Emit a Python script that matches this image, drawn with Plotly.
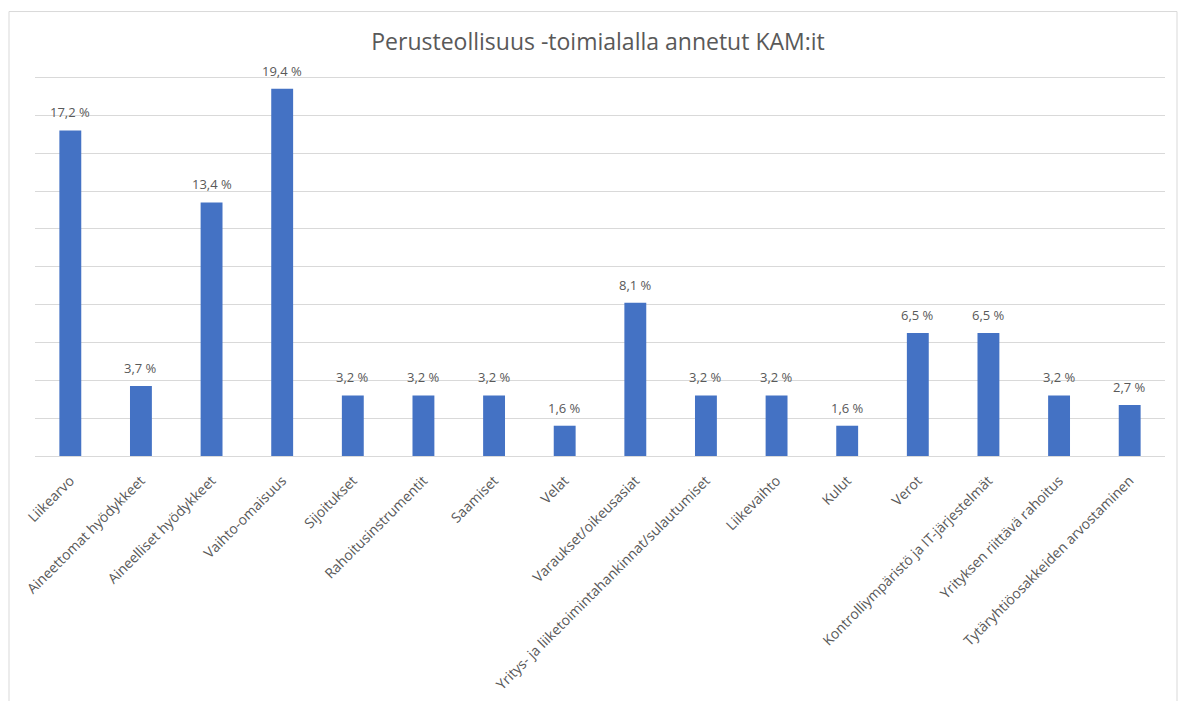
import plotly.graph_objects as go

categories = [
    "Liikearvo", "Aineettomat hyödykkeet", "Aineelliset hyödykkeet", "Vaihto-omaisuus",
    "Sijoitukset", "Rahoitusinstrumentit", "Saamiset", "Velat", "Varaukset/oikeusasiat",
    "Yritys- ja liiketoimintahankinnat/sulautumiset", "Liikevaihto", "Kulut", "Verot",
    "Kontrolliympäristö ja IT-järjestelmät", "Yrityksen riittävä rahoitus",
    "Tytäryhtiöosakkeiden arvostaminen",
]
values = [17.2, 3.7, 13.4, 19.4, 3.2, 3.2, 3.2, 1.6, 8.1, 3.2, 3.2, 1.6, 6.5, 6.5, 3.2, 2.7]
labels = [f"{v:.1f}".replace(".", ",") + " %" for v in values]

FONT = "Open Sans"
GREY = "#595959"
OFF = 8  # default body margin of the html page

fig = go.Figure(go.Bar(
    x=categories, y=values,
    marker=dict(color="#4472C4", line=dict(width=0)),
    cliponaxis=False, hoverinfo="skip",
))

for c, v, t in zip(categories, values, labels):
    fig.add_annotation(x=c, y=v, text=t, showarrow=False, yanchor="bottom",
                       yshift=7, font=dict(family=FONT, size=13, color=GREY))

W, H = 1188 - OFF, 701 - OFF
YMAX = 20.5
# target pixel positions in window
L, R, B, TOP20 = 35, 1165, 456, 77
T = B - (B - TOP20) * YMAX / 20
pw, ph = R - L, B - T

def px(x):
    return (x - L) / pw

def py(y):
    return (B - y) / ph

fig.update_layout(
    width=W, height=H,
    margin=dict(l=L - OFF, r=W - (R - OFF), t=T - OFF, b=H - (B - OFF), autoexpand=False),
    paper_bgcolor="white", plot_bgcolor="white",
    bargap=0.69,
    showlegend=False,
    title=dict(text="Perusteollisuus -toimialalla annetut KAM:it",
               font=dict(family=FONT, size=23, color=GREY),
               x=0.5, xanchor="center", y=1 - (42 - OFF) / H, yanchor="middle"),
    xaxis=dict(tickangle=-45, tickfont=dict(family=FONT, size=14, color=GREY),
               showgrid=False, showline=True, linecolor="#D9D9D9", linewidth=1,
               ticks="", ticklabelstandoff=10, fixedrange=True, automargin=False),
    yaxis=dict(range=[0, YMAX], tick0=0, dtick=2, showticklabels=False, showgrid=True,
               gridcolor="#D9D9D9", gridwidth=1, zeroline=False, showline=False,
               fixedrange=True, automargin=False),
    shapes=[dict(type="rect", xref="paper", yref="paper",
                 x0=px(9), x1=px(1177), y0=py(715), y1=py(11),
                 line=dict(color="#D9D9D9", width=1), fillcolor="rgba(0,0,0,0)",
                 layer="below")],
)

fig.write_html("out.html")
